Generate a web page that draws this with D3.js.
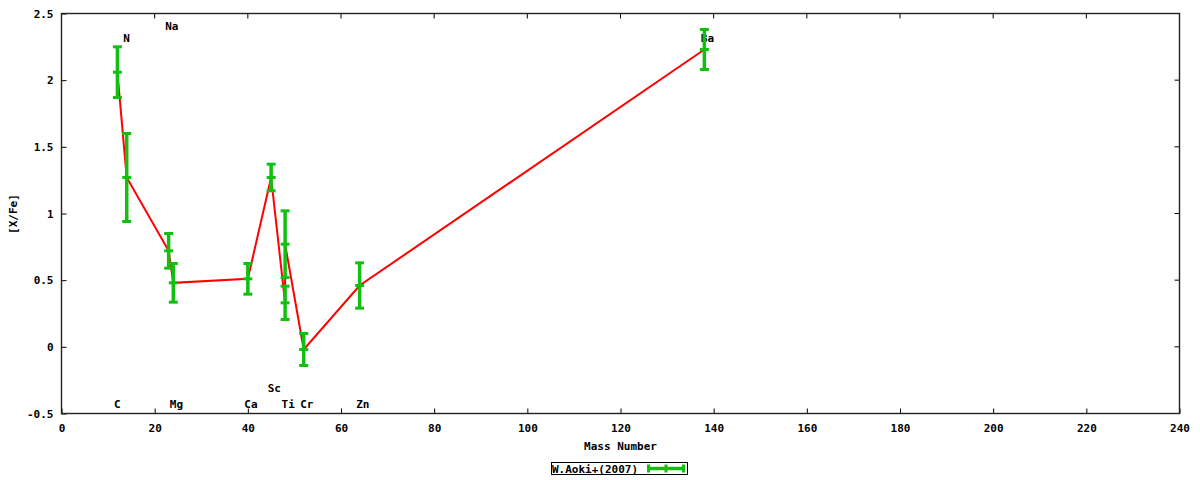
<!DOCTYPE html>
<html>
<head>
<meta charset="utf-8">
<script src="https://cdn.jsdelivr.net/npm/d3@7"></script>
<style>
  html, body { margin: 0; padding: 0; background: #fff; }
  svg { display: block; }
  text { font-family: "DejaVu Sans Mono", "Liberation Mono", monospace; font-weight: bold; font-size: 11px; fill: #000; }
</style>
</head>
<body>
<svg id="chart" width="1200" height="480"></svg>
<script>
// ---- data ----
const elements   = ["C", "N", "Na", "Mg", "Ca", "Sc", "Ti", "Ti", "Cr", "Zn", "Ba"];
const massNumber = [12, 14, 23, 24, 40, 45, 48, 48, 52, 64, 138];
const xFe        = [2.06, 1.27, 0.72, 0.48, 0.51, 1.27, 0.33, 0.77, -0.02, 0.46, 2.23];
const xFeErr     = [0.19, 0.33, 0.13, 0.145, 0.115, 0.10, 0.125, 0.25, 0.12, 0.17, 0.15];

const labelNames = ["C", "N", "Na", "Mg", "Ca", "Sc", "Ti", "Cr", "Zn", "Ba"];
const labelMass  = [12, 14, 23, 24, 40, 45, 48, 52, 64, 138];
const labelY     = [-0.43, 2.32, 2.41, -0.43, -0.43, -0.31, -0.43, -0.43, -0.43, 2.32];

const xTicks = [0, 20, 40, 60, 80, 100, 120, 140, 160, 180, 200, 220, 240];
const yTicks = [-0.5, 0, 0.5, 1, 1.5, 2, 2.5];

const seriesName = "W.Aoki+(2007)";
const xTitle = "Mass Number";
const yTitle = "[X/Fe]";

// ---- layout ----
const L = 61.5, R = 1179.5, T = 13.5, B = 413.5;
const green = "#12c012", red = "#ff0000";

const svg = d3.select("#chart");
const x = d3.scaleLinear().domain([0, 240]).range([L, R]);
const y = d3.scaleLinear().domain([-0.5, 2.5]).range([B, T]);

const pts = massNumber.map((m, i) => ({ m, v: xFe[i], e: xFeErr[i], el: elements[i] }));

// axes with inward ticks
const gx = svg.append("g").attr("transform", `translate(0,${B})`)
  .call(d3.axisBottom(x).tickValues(xTicks).tickFormat(d => String(d)).tickSize(-5).tickPadding(11));
const gy = svg.append("g").attr("transform", `translate(${L},0)`)
  .call(d3.axisLeft(y).tickValues(yTicks).tickFormat(d => String(d)).tickSize(-5).tickPadding(8));
[gx, gy].forEach(g => {
  g.select(".domain").remove();
  g.selectAll("line").attr("stroke", "#000");
  g.selectAll("text").attr("font-family", null).attr("font-size", null).attr("fill", null);
  g.attr("font-family", null).attr("font-size", null);
});
// mirrored ticks (top and right)
svg.append("g").selectAll("line").data(xTicks).join("line")
  .attr("x1", d => x(d)).attr("x2", d => x(d)).attr("y1", T).attr("y2", T + 5).attr("stroke", "#000");
svg.append("g").selectAll("line").data(yTicks).join("line")
  .attr("x1", R).attr("x2", R - 5).attr("y1", d => y(d)).attr("y2", d => y(d)).attr("stroke", "#000");

// frame
svg.append("rect").attr("x", L).attr("y", T).attr("width", R - L).attr("height", B - T)
  .attr("fill", "none").attr("stroke", "#222").attr("stroke-width", 1.4);

// element labels
svg.append("g").selectAll("text").data(labelNames).join("text")
  .attr("x", (d, i) => x(labelMass[i]) - 3.5)
  .attr("y", (d, i) => y(labelY[i]) + 4)
  .text(d => d);

// red connecting line
svg.append("path").datum(pts)
  .attr("d", d3.line().x(d => x(d.m)).y(d => y(d.v)))
  .attr("fill", "none").attr("stroke", red).attr("stroke-width", 2);

// error bars
const eb = svg.append("g").selectAll("g").data(pts).join("g");
eb.append("line")
  .attr("x1", d => x(d.m)).attr("x2", d => x(d.m))
  .attr("y1", d => y(d.v + d.e)).attr("y2", d => y(d.v - d.e))
  .attr("stroke", green).attr("stroke-width", 3.5);
[d => d.v + d.e, d => d.v, d => d.v - d.e].forEach(fn => {
  eb.append("line")
    .attr("x1", d => x(d.m) - 4.5).attr("x2", d => x(d.m) + 4.5)
    .attr("y1", d => y(fn(d))).attr("y2", d => y(fn(d)))
    .attr("stroke", green).attr("stroke-width", 3);
});

// axis titles
svg.append("text").attr("x", (L + R) / 2).attr("y", 450).attr("text-anchor", "middle").text(xTitle);
svg.append("text").attr("transform", "translate(17,214) rotate(-90)").attr("text-anchor", "middle").text(yTitle);

// legend
const lg = svg.append("g");
lg.append("rect").attr("x", 551.5).attr("y", 462.5).attr("width", 136).attr("height", 12)
  .attr("fill", "#fff").attr("stroke", "#000").attr("stroke-width", 1);
lg.append("text").attr("x", 552).attr("y", 472.5).text(seriesName);
lg.append("line").attr("x1", 648.5).attr("x2", 683.5).attr("y1", 468.5).attr("y2", 468.5)
  .attr("stroke", green).attr("stroke-width", 3.5);
[648.5, 666, 683.5].forEach(cx => {
  lg.append("line").attr("x1", cx).attr("x2", cx).attr("y1", 464.5).attr("y2", 472.5)
    .attr("stroke", green).attr("stroke-width", 3);
});
</script>
</body>
</html>
